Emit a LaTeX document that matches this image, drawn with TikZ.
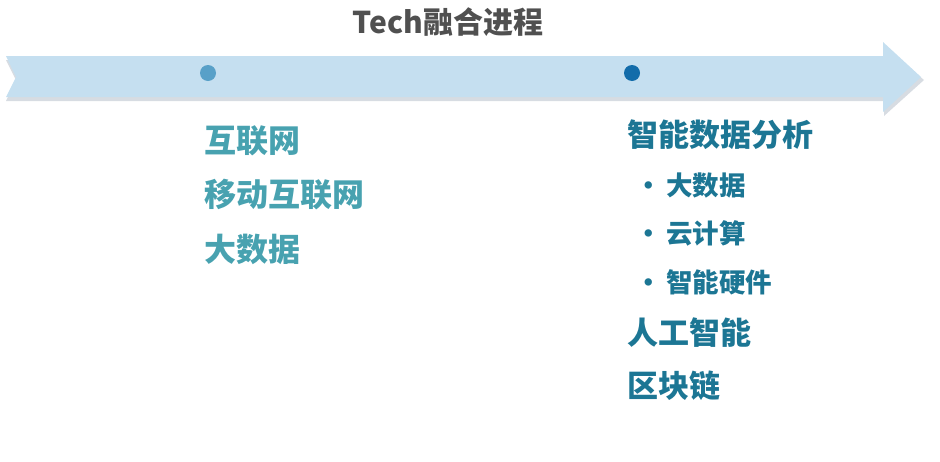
\documentclass[tikz,border=0pt]{standalone}
\usepackage{fontspec}
\setmainfont{Noto Sans CJK SC}
\usepackage{tikz}
\usetikzlibrary{positioning}
\definecolor{barblue}{RGB}{197,223,240}
\definecolor{barshade}{RGB}{215,220,226}
\definecolor{dotlight}{RGB}{88,160,200}
\definecolor{dotdark}{RGB}{18,108,170}
\definecolor{teallight}{RGB}{72,162,176}
\definecolor{tealdark}{RGB}{28,118,148}
\definecolor{titlegray}{RGB}{80,80,80}

\begin{document}
\begin{tikzpicture}[
    x=1pt, y=-1pt,
    every node/.style={inner sep=0pt, anchor=west},
    era/.style={font=\fontsize{32}{34}\selectfont\bfseries, text=teallight},
    topic/.style={font=\fontsize{31}{33}\selectfont\bfseries, text=tealdark},
    sub/.style={font=\fontsize{26.5}{28}\selectfont\bfseries, text=tealdark},
    dot/.style={circle, minimum size=16pt, anchor=center}
]
\useasboundingbox (0,0) rectangle (940,461);
% timeline arrow
\fill[barshade] (6,60) -- (884,60) -- (884,46) -- (924,80) -- (884,116) -- (884,101) -- (6,101) -- (16,80) -- cycle;
\fill[barblue] (6,56) -- (883,56) -- (883,42) -- (921,77) -- (883,112) -- (883,97) -- (6,97) -- (16,77) -- cycle;
\node[font=\fontsize{30}{32}\selectfont\bfseries, text=titlegray, anchor=center] (title) at (448,22) {Tech融合进程};
\node[dot, fill=dotlight] (early) at (208,73) {};
\node[dot, fill=dotdark] (late) at (632,73) {};
% first stage
\node[era] (web) at (204,141) {互联网};
\node[era, below=23pt of web.south west, anchor=north west] (mobile) {移动互联网};
\node[era, below=23pt of mobile.south west, anchor=north west] (bigdata) {大数据};
% second stage
\node[topic] (analytics) at (627,135) {智能数据分析};
\node[sub] (bd) at (635,185) {·\,大数据};
\node[sub] (cloud) at (635,233) {·\,云计算};
\node[sub] (hw) at (635,282) {·\,智能硬件};
\node[topic] (ai) at (627,333) {人工智能};
\node[topic] (chain) at (627,386) {区块链};
\end{tikzpicture}
\end{document}
